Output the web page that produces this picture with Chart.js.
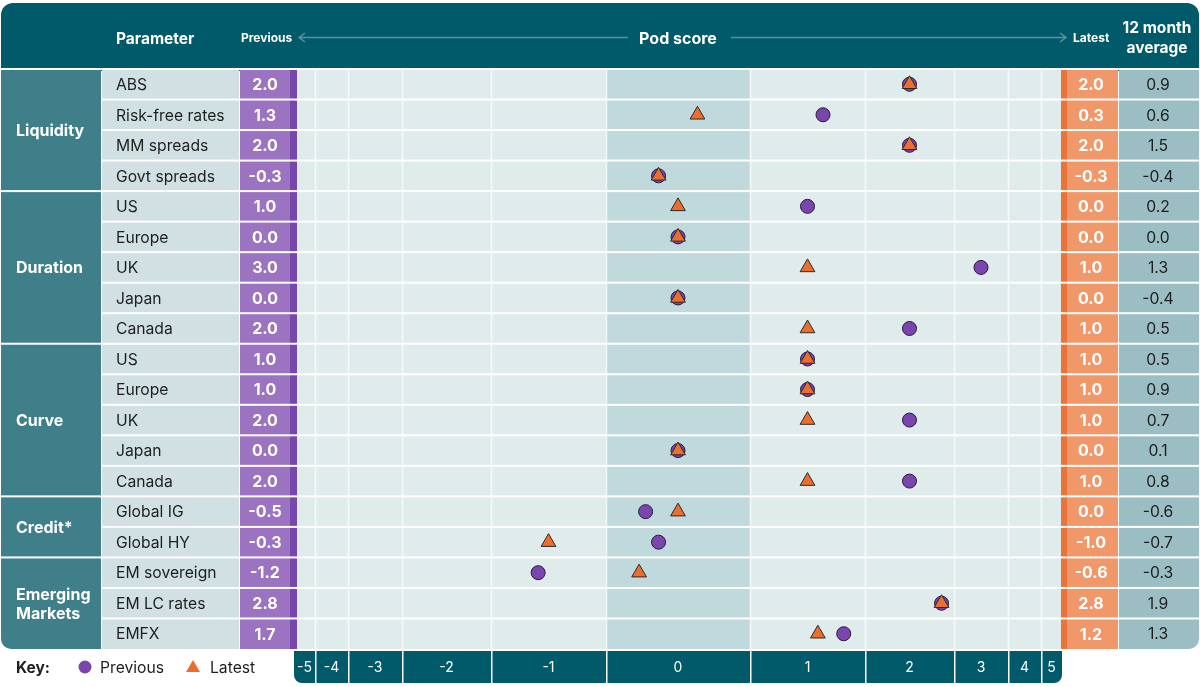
<!DOCTYPE html>
<html>
<head>
<meta charset="utf-8">
<script src="https://cdn.jsdelivr.net/npm/chart.js@4.4.1/dist/chart.umd.min.js"></script>
<style>
  body { margin: 0; background: #ffffff; }
  canvas { display: block; }
</style>
</head>
<body>
<canvas id="myChart" width="1200" height="687"></canvas>
<script>
// --- data ---
const groups = ['Liquidity', 'Duration', 'Curve', 'Credit*', 'Emerging Markets'];
const groupSizes = [4, 5, 5, 2, 3];
const params = ['ABS', 'Risk-free rates', 'MM spreads', 'Govt spreads',
  'US', 'Europe', 'UK', 'Japan', 'Canada',
  'US', 'Europe', 'UK', 'Japan', 'Canada',
  'Global IG', 'Global HY',
  'EM sovereign', 'EM LC rates', 'EMFX'];
const previous = [2.0, 1.3, 2.0, -0.3, 1.0, 0.0, 3.0, 0.0, 2.0, 1.0, 1.0, 2.0, 0.0, 2.0, -0.5, -0.3, -1.2, 2.8, 1.7];
const latest = [2.0, 0.3, 2.0, -0.3, 0.0, 0.0, 1.0, 0.0, 1.0, 1.0, 1.0, 1.0, 0.0, 1.0, 0.0, -1.0, -0.6, 2.8, 1.2];
const average = [0.9, 0.6, 1.5, -0.4, 0.2, 0.0, 1.3, -0.4, 0.5, 0.5, 0.9, 0.7, 0.1, 0.8, -0.6, -0.7, -0.3, 1.9, 1.3];
const scoreTicks = [-5, -4, -3, -2, -1, 0, 1, 2, 3, 4, 5];

// relative width of each score bin (the axis is not linear)
const binWidths = [21, 33, 54, 89, 115, 144, 115, 89, 54, 33, 21];

const FONT = 'Inter, "Noto Sans", sans-serif';
const C = {
  header: '#005a6a',
  group: '#3f7f89',
  param: '#d0e0e3',
  plot: '#e0ebec',
  zero: '#c0d9dc',
  prev: '#9b73c1',
  prevDark: '#7747ac',
  late: '#f0986a',
  lateDark: '#ea7338',
  avg: '#9bbec5',
  text: '#1e1e1e',
  purple: '#7a45ad',
  orange: '#ec6e2f'
};

// score scale: integer n sits in the middle of its bin, fractions move out from there
class PodScale extends Chart.LinearScale {
  binEdges() {
    const total = binWidths.reduce((a, b) => a + b, 0);
    const k = (this.right - this.left) / total;
    const edges = [this.left];
    let acc = this.left;
    binWidths.forEach(w => { acc += w * k; edges.push(acc); });
    return edges;
  }
  getPixelForValue(value) {
    const edges = this.binEdges();
    const n = Math.trunc(value);
    const b = Math.max(0, Math.min(binWidths.length - 1, n - scoreTicks[0]));
    const center = (edges[b] + edges[b + 1]) / 2;
    const half = (edges[b + 1] - edges[b]) / 2;
    return center + (value - n) * half * 0.9;
  }
}
PodScale.id = 'pod';
PodScale.defaults = Chart.LinearScale.defaults;
Chart.register(PodScale);

function txt(ctx, s, x, y, size, weight, color, align) {
  ctx.font = weight + ' ' + size + 'px ' + FONT;
  ctx.fillStyle = color;
  ctx.textAlign = align || 'left';
  ctx.textBaseline = 'middle';
  ctx.fillText(s, x, y + 1);
}

const tablePlugin = {
  id: 'table',
  beforeDatasetsDraw(chart) {
    const ctx = chart.ctx;
    const x = chart.scales.x, y = chart.scales.y;
    const top = chart.chartArea.top, bottom = chart.chartArea.bottom;
    const edges = x.binEdges();
    const rowY = i => y.getPixelForValue(i);
    ctx.save();

    // header
    ctx.fillStyle = C.header;
    ctx.beginPath();
    ctx.roundRect(1, 3, 1198, top - 1, [12, 12, 0, 0]);
    ctx.fill();
    txt(ctx, 'Parameter', 116, 38, 15.5, 'bold', '#ffffff');
    txt(ctx, 'Previous', 241, 37, 12, 'bold', '#ffffff');
    txt(ctx, 'Pod score', (x.left + x.right) / 2, 38, 16, 'bold', '#ffffff', 'center');
    txt(ctx, 'Latest', 1073, 37, 12, 'bold', '#ffffff');
    txt(ctx, '12 month', 1157, 27, 15.5, 'bold', '#ffffff', 'center');
    txt(ctx, 'average', 1157, 47, 15.5, 'bold', '#ffffff', 'center');
    ctx.strokeStyle = '#5f8f99';
    ctx.lineWidth = 1.5;
    ctx.beginPath();
    ctx.moveTo(299, 37.5); ctx.lineTo(628, 37.5);
    ctx.moveTo(305, 33); ctx.lineTo(299, 37.5); ctx.lineTo(305, 42);
    ctx.moveTo(731, 37.5); ctx.lineTo(1066, 37.5);
    ctx.moveTo(1060, 33); ctx.lineTo(1066, 37.5); ctx.lineTo(1060, 42);
    ctx.stroke();

    // columns
    ctx.fillStyle = C.group;
    ctx.beginPath();
    ctx.roundRect(1, top, 100, bottom - top, [0, 0, 0, 10]);
    ctx.fill();
    ctx.fillStyle = C.param;
    ctx.fillRect(102, top, 137, bottom - top);
    ctx.fillStyle = C.plot;
    ctx.fillRect(x.left, top, x.right - x.left, bottom - top);
    const zb = scoreTicks.indexOf(0);
    ctx.fillStyle = C.zero;
    ctx.fillRect(edges[zb], top, edges[zb + 1] - edges[zb], bottom - top);
    ctx.strokeStyle = 'rgba(255,255,255,0.75)';
    ctx.lineWidth = 1.5;
    for (let i = 1; i < edges.length - 1; i++) {
      ctx.beginPath();
      ctx.moveTo(Math.round(edges[i]) + 0.5, top);
      ctx.lineTo(Math.round(edges[i]) + 0.5, bottom);
      ctx.stroke();
    }
    ctx.fillStyle = C.prev;
    ctx.fillRect(240, top, 51, bottom - top);
    ctx.fillStyle = C.prevDark;
    ctx.fillRect(290, top, 7, bottom - top);
    ctx.fillStyle = C.lateDark;
    ctx.fillRect(1061, top, 7, bottom - top);
    ctx.fillStyle = C.late;
    ctx.fillRect(1067, top, 51, bottom - top);
    ctx.fillStyle = C.avg;
    ctx.beginPath();
    ctx.roundRect(1119, top, 80, bottom - top, [0, 0, 10, 0]);
    ctx.fill();

    // row separators
    ctx.fillStyle = '#ffffff';
    ctx.fillRect(0, top - 1, 1200, 2);
    for (let i = 0; i < params.length - 1; i++) {
      const yy = rowY(i + 0.5);
      ctx.fillRect(101, yy - 1, 1099, 2);
    }
    let start = 0;
    groupSizes.forEach((n, g) => {
      if (g > 0) ctx.fillRect(0, rowY(start - 0.5) - 1, 102, 2);
      const cy = (rowY(start) + rowY(start + n - 1)) / 2;
      const words = groups[g].split(' ');
      if (words.length > 1) {
        txt(ctx, words[0], 16, cy - 9.5, 16, 'bold', '#ffffff');
        txt(ctx, words[1], 16, cy + 9.5, 16, 'bold', '#ffffff');
      } else {
        txt(ctx, groups[g], 16, cy, 16, 'bold', '#ffffff');
      }
      start += n;
    });

    // cell texts
    params.forEach((p, i) => {
      const yy = rowY(i);
      txt(ctx, p, 116, yy, 15.7, 'normal', C.text);
      txt(ctx, previous[i].toFixed(1), 265, yy, 16, 'bold', '#ffffff', 'center');
      txt(ctx, latest[i].toFixed(1), 1091, yy, 16, 'bold', '#ffffff', 'center');
      txt(ctx, average[i].toFixed(1), 1158, yy, 15.7, 'normal', C.text, 'center');
    });

    // bottom score axis
    ctx.fillStyle = C.header;
    ctx.beginPath();
    ctx.roundRect(x.left, bottom + 2, x.right - x.left, 32, [0, 0, 8, 8]);
    ctx.fill();
    ctx.fillStyle = '#ffffff';
    for (let i = 1; i < edges.length - 1; i++) {
      ctx.fillRect(Math.round(edges[i]), bottom + 2, 1.5, 32);
    }
    scoreTicks.forEach(t => {
      txt(ctx, String(t), x.getPixelForValue(t), bottom + 18, 14, 'normal', '#ffffff', 'center');
    });

    // key
    const ky = 667;
    txt(ctx, 'Key:', 16, ky, 15.5, 'bold', C.text);
    ctx.fillStyle = C.purple;
    ctx.beginPath();
    ctx.arc(85, ky, 6.5, 0, Math.PI * 2);
    ctx.fill();
    txt(ctx, 'Previous', 100, ky, 15.7, 'normal', C.text);
    ctx.fillStyle = C.orange;
    ctx.beginPath();
    ctx.moveTo(193, ky - 7); ctx.lineTo(200, ky + 5); ctx.lineTo(186, ky + 5);
    ctx.closePath();
    ctx.fill();
    txt(ctx, 'Latest', 210, ky, 15.7, 'normal', C.text);

    ctx.restore();
  }
};

const data = {
  datasets: [{
    label: 'Latest',
    data: latest.map((v, i) => ({ x: v, y: i })),
    pointStyle: 'triangle',
    pointRadius: 8.5,
    backgroundColor: C.orange,
    borderColor: '#2a2a2a',
    borderWidth: 1,
    order: 0
  }, {
    label: 'Previous',
    data: previous.map((v, i) => ({ x: v, y: i })),
    pointStyle: 'circle',
    pointRadius: 7,
    backgroundColor: C.purple,
    borderColor: '#2a1a3a',
    borderWidth: 1,
    order: 1
  }]
};

const config = {
  type: 'scatter',
  data: data,
  options: {
    responsive: false,
    devicePixelRatio: 1,
    animation: false,
    events: [],
    layout: { padding: { left: 294, right: 138, top: 69, bottom: 38 } },
    plugins: { legend: { display: false }, tooltip: { enabled: false } },
    scales: {
      x: { type: 'pod', min: -5, max: 5, display: false },
      y: { type: 'linear', min: -0.5, max: 18.5, reverse: true, display: false }
    }
  },
  plugins: [tablePlugin]
};

const myChart = new Chart(document.getElementById('myChart'), config);
</script>
</body>
</html>
